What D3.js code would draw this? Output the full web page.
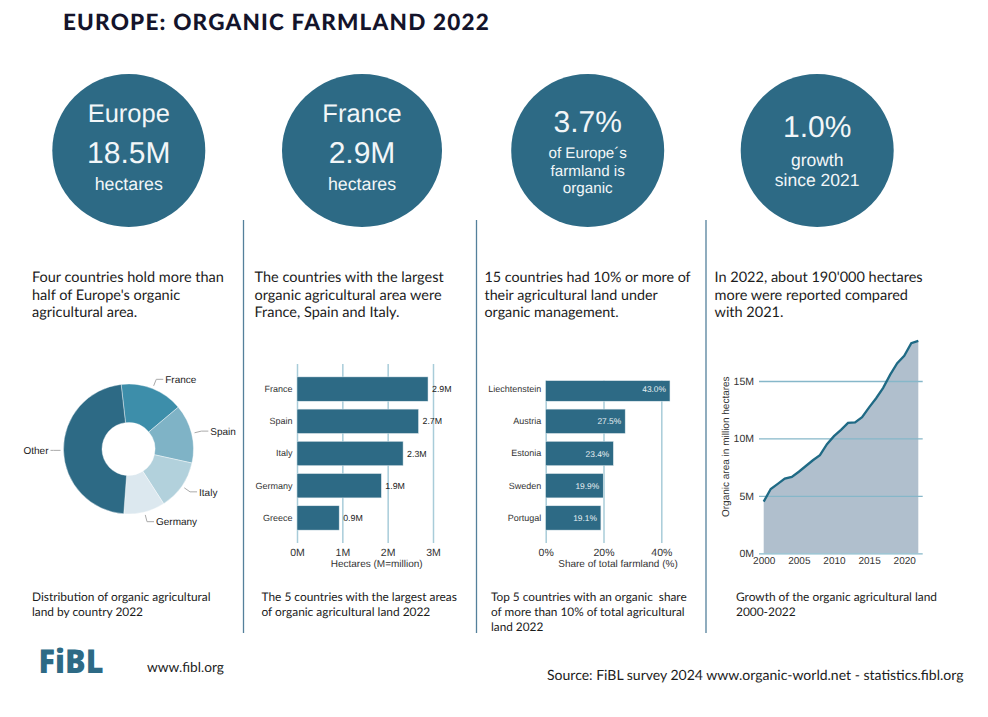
<!DOCTYPE html>
<html>
<head>
<meta charset="utf-8">
<title>Europe: Organic Farmland 2022</title>
<script src="https://cdn.jsdelivr.net/npm/d3@7"></script>
<style>
    body { margin: 0; background: #fff; }
    text { font-family: "Liberation Sans", Arial, sans-serif; text-rendering: geometricPrecision; }
    .copy { font-family: Lato, sans-serif; fill: #1c1c1c; }
    .axis .domain { display: none; }
    .axis text { font-family: "Liberation Sans", Arial, sans-serif; fill: #333; }
</style>
</head>
<body>
<svg id="chart" width="988" height="717"></svg>
<script>
// DATA
const donutLabels = ['France', 'Spain', 'Italy', 'Germany', 'Other'];
const donutValues = [2.9, 2.7, 2.3, 1.9, 8.7];
const donutColors = ['#3d8eaa', '#7fb3c6', '#b2d1dc', '#dce8ef', '#2d6a85'];

const areaCountries = ['France', 'Spain', 'Italy', 'Germany', 'Greece'];
const areaValues = [2.89, 2.68, 2.34, 1.86, 0.93];
const areaTicks = [0, 1, 2, 3];

const shareCountries = ['Liechtenstein', 'Austria', 'Estonia', 'Sweden', 'Portugal'];
const shareValues = [43.0, 27.5, 23.4, 19.9, 19.1];
const shareTicks = [0, 20, 40];

const growthYears = d3.range(2000, 2023);
const growthValues = [4.5, 5.6, 6.05, 6.5, 6.65, 7.1, 7.6, 8.1, 8.55, 9.5, 10.2, 10.75,
    11.35, 11.4, 11.85, 12.7, 13.5, 14.4, 15.55, 16.55, 17.2, 18.3, 18.5];
const growthYearTicks = [2000, 2005, 2010, 2015, 2020];
const growthValueTicks = [0, 5, 10, 15];

const teal = '#2d6a85';
const gridColor = '#a8ccd9';

const svg = d3.select('#chart');


// HEADER
svg.append('text')
    .attr('class', 'copy')
    .attr('x', 63)
    .attr('y', 30)
    .attr('font-size', 22.5)
    .attr('font-weight', 900)
    .attr('letter-spacing', 1.2)
    .style('fill', '#14142b')
    .text('EUROPE: ORGANIC FARMLAND 2022');


// KEY FIGURE CIRCLES
const circles = [
    {cx: 128.8, rx: 76.5, lines: [['Europe', 122, 25.5], ['18.5M', 162.5, 30], ['hectares', 190, 17.8]]},
    {cx: 362, rx: 80, lines: [['France', 122, 25.5], ['2.9M', 162.5, 30], ['hectares', 190, 17.8]]},
    {cx: 587.7, rx: 76.5, lines: [['3.7%', 132, 30], ['of Europe´s', 157.5, 15.2], ['farmland is', 175.5, 15.2], ['organic', 193, 15.2]]},
    {cx: 817.2, rx: 76.5, lines: [['1.0%', 136.5, 30], ['growth', 166, 17.5], ['since 2021', 186, 17.5]]}
];

circles.forEach(c => {
    svg.append('ellipse')
        .attr('cx', c.cx)
        .attr('cy', 150.5)
        .attr('rx', c.rx)
        .attr('ry', 76.5)
        .attr('fill', teal);

    c.lines.forEach(l => {
        svg.append('text')
            .attr('x', c.cx)
            .attr('y', l[1])
            .attr('text-anchor', 'middle')
            .attr('font-size', l[2])
            .attr('fill', '#f2f6f8')
            .text(l[0]);
    });
});


// COLUMN DIVIDERS
[243.5, 476.5, 706].forEach(x => {
    svg.append('line')
        .attr('x1', x)
        .attr('x2', x)
        .attr('y1', 220)
        .attr('y2', 633)
        .attr('stroke', '#54809b')
        .attr('stroke-width', 1.3);
});


// TEXT BLOCKS
function textBlock(x, y, step, size, lines) {
    lines.forEach((line, i) => {
        svg.append('text')
            .attr('class', 'copy')
            .attr('x', x)
            .attr('y', y + i * step)
            .attr('font-size', size)
            .attr('xml:space', 'preserve')
            .style('white-space', 'pre')
            .text(line);
    });
}

textBlock(32, 282, 17.5, 14.5, ['Four countries hold more than', "half of Europe's organic", 'agricultural area.']);
textBlock(254.5, 282, 17.5, 14.5, ['The countries with the largest', 'organic agricultural area were', 'France, Spain and Italy.']);
textBlock(484.5, 282, 17.5, 14.3, ['15 countries had 10% or more of', 'their agricultural land under', 'organic management.']);
textBlock(714.5, 282, 17.5, 14.5, ["In 2022, about 190'000 hectares", 'more were reported compared', 'with 2021.']);

textBlock(32, 600.5, 15.2, 11.9, ['Distribution of organic agricultural', 'land by country 2022']);
textBlock(261.5, 600.5, 15.2, 11.9, ['The 5 countries with the largest areas', 'of organic agricultural land 2022']);
textBlock(491, 600.5, 15, 11.8, ['Top 5 countries with an organic  share', 'of more than 10% of total agricultural', 'land 2022']);
textBlock(736, 600.5, 15.2, 11.9, ['Growth of the organic agricultural land', '2000-2022']);

textBlock(547, 680, 0, 14.03, ['Source: FiBL survey 2024 www.organic-world.net - statistics.fibl.org']);
textBlock(147, 672, 0, 13.7, ['www.fibl.org']);

svg.append('text')
    .attr('x', 38.5)
    .attr('y', 672.5)
    .attr('font-size', 33)
    .attr('font-weight', 800)
    .attr('textLength', 65)
    .attr('lengthAdjust', 'spacingAndGlyphs')
    .style('font-family', '"Open Sans", sans-serif')
    .attr('fill', teal)
    .text('FiBL');


// DONUT
const outerRadius = 65;
const innerRadius = 26.5;

const donut = svg.append('g')
    .attr('transform', 'translate(128.5, 449)');

const pie = d3.pie()
    .sort(null)
    .startAngle(-6.5 * Math.PI / 180)
    .endAngle(353.5 * Math.PI / 180);

const arc = d3.arc()
    .innerRadius(innerRadius)
    .outerRadius(outerRadius);

const slices = pie(donutValues);

donut.selectAll('path.slice')
    .data(slices)
    .enter()
    .append('path')
    .attr('class', 'slice')
    .attr('d', arc)
    .attr('fill', (d, i) => donutColors[i])
    .attr('stroke', '#fff')
    .attr('stroke-width', 0.4);

slices.forEach((d, i) => {
    const mid = (d.startAngle + d.endAngle) / 2;
    const start = d3.pointRadial(mid, outerRadius + 3);
    const elbow = d3.pointRadial(mid, outerRadius + 10);
    const dir = Math.sin(mid) >= 0 ? 1 : -1;

    // slices pointing sideways get a straight leader
    const flat = Math.abs(Math.cos(mid)) < 0.1;
    if (flat) elbow[1] = start[1];
    const end = [elbow[0] + dir * (flat ? 3 : 7), elbow[1]];

    donut.append('path')
        .attr('d', d3.line()([start, elbow, end]))
        .attr('fill', 'none')
        .attr('stroke', '#aaa')
        .attr('stroke-width', 1);

    donut.append('text')
        .attr('x', end[0] + dir * 2)
        .attr('y', end[1] + 3.7)
        .attr('text-anchor', dir > 0 ? 'start' : 'end')
        .attr('font-size', 10)
        .attr('fill', '#222')
        .text(donutLabels[i]);
});


// HORIZONTAL BARS
function barChart(opts) {
    const x = d3.scaleLinear()
        .domain(opts.domain)
        .range(opts.xRange);

    const y = d3.scaleBand()
        .domain(opts.categories)
        .range([364, 543])
        .paddingInner(0.245)
        .paddingOuter(0.4);

    const g = svg.append('g');

    if (opts.clipTop) {
        svg.append('clipPath')
            .attr('id', opts.id)
            .append('rect')
            .attr('x', 0)
            .attr('y', opts.clipTop)
            .attr('width', 988)
            .attr('height', 717 - opts.clipTop);
        g.attr('clip-path', `url(#${opts.id})`);
    }

    const xAxis = g.append('g')
        .attr('class', 'axis')
        .attr('transform', 'translate(0, 543)')
        .call(d3.axisBottom(x).tickValues(opts.ticks).tickFormat(opts.tickFormat).tickSize(-179).tickPadding(6));

    xAxis.selectAll('line')
        .attr('stroke', gridColor)
        .attr('stroke-width', 1.5);

    xAxis.selectAll('text')
        .attr('font-size', 10.5);

    const yAxis = g.append('g')
        .attr('class', 'axis')
        .attr('transform', `translate(${opts.xRange[0] - 4.5}, 0)`)
        .call(d3.axisLeft(y).tickSize(0).tickPadding(0));

    yAxis.selectAll('text')
        .attr('font-size', 9);

    g.selectAll('rect.bar')
        .data(opts.values)
        .enter()
        .append('rect')
        .attr('class', 'bar')
        .attr('x', x(0))
        .attr('y', (d, i) => y(opts.categories[i]))
        .attr('width', d => x(d) - x(0))
        .attr('height', y.bandwidth())
        .attr('fill', teal)
        .attr('stroke', '#dfe9ee')
        .attr('stroke-width', 0.5);

    g.selectAll('text.value')
        .data(opts.values)
        .enter()
        .append('text')
        .attr('class', 'value')
        .attr('x', d => x(d) + opts.labelOffset)
        .attr('y', (d, i) => y(opts.categories[i]) + y.bandwidth() / 2 + 3.2)
        .attr('text-anchor', opts.labelOffset < 0 ? 'end' : 'start')
        .attr('font-size', opts.labelSize)
        .attr('fill', opts.labelColor)
        .text(opts.labelFormat);

    svg.append('text')
        .attr('x', opts.titleX)
        .attr('y', 566.7)
        .attr('text-anchor', 'middle')
        .attr('font-size', 10)
        .attr('fill', '#333')
        .text(opts.title);
}

barChart({
    categories: areaCountries,
    values: areaValues,
    domain: [0, 3],
    xRange: [297, 433],
    ticks: areaTicks,
    tickFormat: d => d + 'M',
    labelOffset: 4,
    labelSize: 8.8,
    labelColor: '#222',
    labelFormat: d => d.toFixed(1) + 'M',
    title: 'Hectares (M=million)',
    titleX: 376.7
});

barChart({
    id: 'share-clip',
    clipTop: 380.7,
    categories: shareCountries,
    values: shareValues,
    domain: [0, 40],
    xRange: [545.7, 661.3],
    ticks: shareTicks,
    tickFormat: d => d + '%',
    labelOffset: -4,
    labelSize: 8.4,
    labelColor: '#e8f0f3',
    labelFormat: d => d.toFixed(1) + '%',
    title: 'Share of total farmland (%)',
    titleX: 618
});


// GROWTH AREA
const xGrowth = d3.scaleLinear()
    .domain([2000, 2022])
    .range([763.7, 918.3]);

const yGrowth = d3.scaleLinear()
    .domain([0, 15])
    .range([553.3, 381]);

svg.append('path')
    .attr('d', d3.area()
        .x((d, i) => xGrowth(growthYears[i]))
        .y0(yGrowth(0))
        .y1(d => yGrowth(d))(growthValues))
    .attr('fill', '#b0bfcd');

const yAxisGrowth = svg.append('g')
    .attr('class', 'axis')
    .attr('transform', 'translate(759, 0)')
    .call(d3.axisLeft(yGrowth).tickValues(growthValueTicks).tickFormat(d => d + 'M').tickSize(-163.7).tickPadding(5));

yAxisGrowth.selectAll('line')
    .attr('stroke', '#86b7c9')
    .attr('stroke-width', 1.3);

yAxisGrowth.selectAll('text')
    .attr('x', -5)
    .attr('font-size', 10.5);

svg.append('path')
    .attr('d', d3.line()
        .x((d, i) => xGrowth(growthYears[i]))
        .y(d => yGrowth(d))(growthValues))
    .attr('fill', 'none')
    .attr('stroke', '#1f6a85')
    .attr('stroke-width', 2.3);

const xAxisGrowth = svg.append('g')
    .attr('class', 'axis')
    .attr('transform', 'translate(0, 553.3)')
    .call(d3.axisBottom(xGrowth).tickValues(growthYearTicks).tickFormat(d3.format('d')).tickSize(0).tickPadding(4));

xAxisGrowth.selectAll('text')
    .attr('font-size', 10);

svg.append('text')
    .attr('transform', 'translate(729, 446.7) rotate(-90)')
    .attr('text-anchor', 'middle')
    .attr('font-size', 10)
    .attr('fill', '#333')
    .text('Organic area in million hectares');
</script>
</body>
</html>
